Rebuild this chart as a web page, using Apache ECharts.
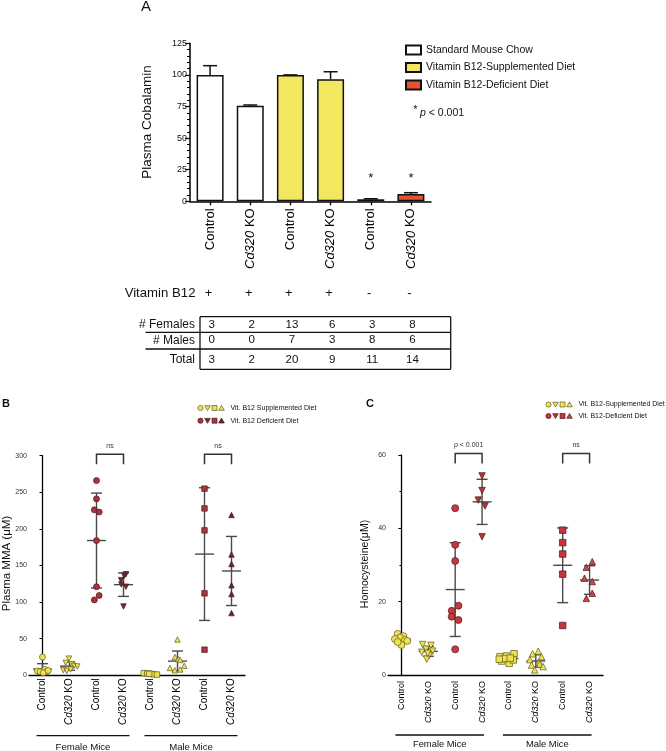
<!DOCTYPE html>
<html><head><meta charset="utf-8">
<script src="https://cdn.jsdelivr.net/npm/echarts@6/dist/echarts.min.js"></script>
<style>html,body{margin:0;padding:0;background:#fff}#c{width:666px;height:751px}</style>
</head><body><div id="c"></div>
<script>
// ---------- Panel A data ----------
const aCategories = ['Control','Cd320 KO','Control','Cd320 KO','Control','Cd320 KO'];
const aSeriesNames = ['Standard Mouse Chow','Vitamin B12-Supplemented Diet','Vitamin B12-Deficient Diet'];
const aChow = [100, 75.5, '-', '-', '-', '-'];
const aSupp = ['-', '-', 100, 96.5, '-', '-'];
const aDef  = ['-', '-', '-', '-', 1.6, 5.8];
const aValues = [100, 75.5, 100, 96.5, 1.6, 5.8];
const aErrTop = [107.3, 76.2, 100, 102.5, 2.0, 6.8];
const aStarAt = [null, null, null, null, 19.5, 19.5];
const vitB12 = ['+','+','+','+','-','-'];
const tableRowLabels = ['# Females','# Males','Total'];
const females = [3,2,13,6,3,8];
const males   = [0,0,7,3,8,6];
const totals  = [3,2,20,9,11,14];

// ---------- Panels B / C data ([jitter, value]) ----------
const groupCats = ['Control','Cd320 KO','Control','Cd320 KO','Control','Cd320 KO','Control','Cd320 KO'];
const groupSexes = ['Female Mice','Male Mice'];
const bFemCtrlSupp = [[0,25],[-0.19,6],[-0.09,5],[0.09,8],[0.16,5],[0.03,3.5],[0.21,6.5]];
const bFemKoSupp   = [[-0.02,22.7],[-0.14,17],[0.08,15],[0.17,12.7],[0.29,12],[-0.23,7],[-0.1,6],[0.04,8]];
const bFemCtrlDef  = [[0,266],[0,241],[-0.08,226],[0.1,223],[0,184],[0,121],[0.1,109],[-0.08,103]];
const bFemKoDef    = [[0.09,138],[0.03,136],[-0.09,130],[-0.08,124],[0.09,121],[0,94]];
const bMaleCtrlSupp= [[-0.25,3],[-0.12,2.5],[0,2],[0.12,1.5],[0.24,1],[-0.05,2]];
const bMaleKoSupp  = [[0,49],[-0.1,25],[0.03,22],[0.1,21],[0.25,13],[-0.28,10],[0.1,8],[-0.1,7]];
const bMaleCtrlDef = [[0,255],[0,228],[0,198],[0,112],[0,35]];
const bMaleKoDef   = [[0,219],[0,165],[0,152],[0,123],[0,111],[0,85]];

const cFemCtrlSupp = [[-0.14,11.2],[0.07,10.6],[-0.05,10.2],[-0.24,9.8],[0.13,9.5],[0.22,9.3],[0,8.2],[-0.14,9.0]];
const cFemKoSupp   = [[-0.21,8.3],[0.1,8.1],[-0.09,7.0],[0.16,6.5],[-0.24,6.2],[0.04,5.3],[-0.06,4.3],[-0.02,5.9]];
const cFemCtrlDef  = [[0,45.5],[0,35.5],[0,31.1],[0.12,18.9],[-0.13,17.5],[-0.13,15.9],[0.12,15.0],[0,7.0]];
const cFemKoDef    = [[0,54.3],[0,50.3],[-0.14,47.7],[0.11,46.1],[0,37.7]];
const cMaleCtrlSupp= [[-0.33,5.0],[-0.09,5.2],[0.19,5.8],[-0.27,3.8],[0.01,3.2],[-0.15,4.5],[0.16,4.1],[-0.36,4.3],[0.05,4.6]];
const cMaleKoSupp  = [[0.09,6.5],[-0.12,5.8],[0.21,5.0],[-0.22,4.2],[0.12,3.5],[0.15,3.0],[-0.16,2.7],[-0.04,1.4],[0.27,2.3]];
const cMaleCtrlDef = [[0,39.5],[0,36.1],[0,33.0],[0,27.5],[0,13.5]];
const cMaleKoDef   = [[0.1,30.9],[-0.12,29.4],[-0.19,26.4],[0.1,25.5],[0.1,22.3],[-0.12,20.9]];

const bGroups = [bFemCtrlSupp,bFemKoSupp,bFemCtrlDef,bFemKoDef,bMaleCtrlSupp,bMaleKoSupp,bMaleCtrlDef,bMaleKoDef];
const cGroups = [cFemCtrlSupp,cFemKoSupp,cFemCtrlDef,cFemKoDef,cMaleCtrlSupp,cMaleKoSupp,cMaleCtrlDef,cMaleKoDef];
const groupDiet = ['supp','supp','def','def','supp','supp','def','def'];
const groupSymbol = ['circle','down','circle','down','rect','triangle','rect','triangle'];
const bComparisons = [[2,3,'ns'],[6,7,'ns']];
const cComparisons = [[2,3,'p'],[6,7,'ns']];
const legendSupp = ['Vit. B12 Supplemented Diet','Vit. B12-Supplemented Diet'];
const legendDef = ['Vit. B12 Deficient Diet','Vit. B12-Deficient Diet'];

// ---------- styles ----------
const FONT = '"Liberation Sans", Arial, Helvetica, sans-serif';
const YELLOW = '#efe24c', YBORDER = '#5e5a28';
const bRed = ['#b33a45','#b33a45','#a8323d','#6e2c33','#b33a45','#b33a45','#a9363f','#5a2c2f'];
const cRed = ['#cc3b3e','#cc3b3e','#c9383c','#b8343b','#cc3b3e','#cc3b3e','#c4363b','#c9464e'];
const RBORDER = '#4a1a1e';

function meanSd(arr){
  const v = arr.map(p=>p[1]); const n = v.length;
  const m = v.reduce((a,b)=>a+b,0)/n;
  const s = Math.sqrt(v.reduce((a,b)=>a+(b-m)*(b-m),0)/(n-1));
  return [m,s];
}
function koFmt(v){ return v === 'Cd320 KO' ? '{i|Cd320} KO' : v; }

function sdRender(meanW, capW){
  return function(params, api){
    const x = api.value(0), m = api.value(1), s = api.value(2);
    const lo = Math.max(m - s, 0);
    const pT = api.coord([x, m + s]), pB = api.coord([x, lo]), pM = api.coord([x, m]);
    const st = {stroke:'#4a4a4a', lineWidth:1.4};
    const ch = [
      {type:'line', shape:{x1:pT[0],y1:pT[1],x2:pB[0],y2:pB[1]}, style:st},
      {type:'line', shape:{x1:pT[0]-capW/2,y1:pT[1],x2:pT[0]+capW/2,y2:pT[1]}, style:st},
      {type:'line', shape:{x1:pM[0]-meanW/2,y1:pM[1],x2:pM[0]+meanW/2,y2:pM[1]}, style:st}
    ];
    if (m - s > 0) ch.push({type:'line', shape:{x1:pB[0]-capW/2,y1:pB[1],x2:pB[0]+capW/2,y2:pB[1]}, style:st});
    return {type:'group', children:ch};
  };
}
function bracketRender(params, api){
  const x1 = api.value(0), x2 = api.value(1);
  const cs = params.coordSys;
  const p1 = api.coord([x1, 0]), p2 = api.coord([x2, 0]);
  const top = cs.y - 1.5, bot = top + 10;
  const st = {stroke:'#333', lineWidth:1.5, fill:null};
  const isP = api.value(2) === 1;
  return {type:'group', children:[
    {type:'polyline', shape:{points:[[p1[0],bot],[p1[0],top],[p2[0],top],[p2[0],bot]]}, style:st},
    {type:'text', x:(p1[0]+p2[0])/2, y:top-8, style:{
      text: isP ? '{i|p} < 0.001' : 'ns', fontSize:7, fontFamily:FONT, fill:'#333',
      align:'center', verticalAlign:'middle',
      rich:{i:{fontStyle:'italic', fontSize:7, fontFamily:FONT, fill:'#333'}}}}
  ]};
}

function scatterSeries(groups, xIdx, yIdx, size, reds){
  return groups.map((g,i)=>({
    type:'scatter', xAxisIndex:xIdx, yAxisIndex:yIdx, z:5, silent:true,
    symbol: groupSymbol[i]==='down' ? 'triangle' : groupSymbol[i],
    symbolRotate: groupSymbol[i]==='down' ? 180 : 0,
    symbolSize: groupSymbol[i]==='rect' ? size-0.5 : (groupSymbol[i]==='circle' ? size : size-0.5),
    itemStyle:{opacity:1, color: groupDiet[i]==='supp' ? YELLOW : reds[i],
               borderColor: groupDiet[i]==='supp' ? YBORDER : RBORDER, borderWidth:0.7},
    data: g.map(p=>[i + p[0], p[1]])
  }));
}

const axLine = {show:true, lineStyle:{color:'#000', width:1.3}};
const option = {
  animation:false,
  textStyle:{fontFamily:FONT},
  grid:[
    {left:190, top:43.3, width:241, height:158},
    {left:29, top:455.7, width:216, height:219.6},
    {left:388, top:455, width:215, height:220}
  ],
  legend:{
    orient:'vertical', left:405, top:44, padding:0, itemWidth:15, itemHeight:9, itemGap:5.5,
    icon:'rect', selectedMode:false, data:aSeriesNames,
    textStyle:{fontSize:10.5, color:'#111', fontFamily:FONT, lineHeight:12}
  },
  xAxis:[
    {type:'category', gridIndex:0, data:aCategories, axisLine:{show:true, lineStyle:{color:'#000', width:1.5}},
     axisTick:{show:true, alignWithLabel:true, length:4, lineStyle:{color:'#000', width:1.3}},
     axisLabel:{interval:0, rotate:90, margin:7, fontSize:13, color:'#000', fontFamily:FONT, formatter:koFmt,
       rich:{i:{fontStyle:'italic', fontSize:13, color:'#000', fontFamily:FONT}}}},
    {type:'category', gridIndex:1, data:groupCats, axisLine:axLine, axisTick:{show:false},
     axisLabel:{interval:0, rotate:90, margin:3, fontSize:10, color:'#000', fontFamily:FONT, formatter:koFmt,
       rich:{i:{fontStyle:'italic', fontSize:10, color:'#000', fontFamily:FONT}}}},
    {type:'value', gridIndex:1, show:false, min:-0.5, max:7.5},
    {type:'category', gridIndex:2, data:groupCats, axisLine:axLine, axisTick:{show:false},
     axisLabel:{interval:0, rotate:90, margin:6, fontSize:9, color:'#000', fontFamily:FONT, formatter:koFmt,
       rich:{i:{fontStyle:'italic', fontSize:9, color:'#000', fontFamily:FONT}}}},
    {type:'value', gridIndex:2, show:false, min:-0.5, max:7.5}
  ],
  yAxis:[
    {type:'value', gridIndex:0, min:0, max:125, interval:25, splitLine:{show:false},
     axisLine:{show:true, lineStyle:{color:'#000', width:1.5}},
     axisTick:{show:true, length:5, lineStyle:{color:'#000', width:1.2}},
     minorTick:{show:true, splitNumber:5, length:3, lineStyle:{color:'#000', width:1}},
     axisLabel:{fontSize:9, margin:3, color:'#111', fontFamily:FONT}},
    {type:'value', gridIndex:1, min:0, max:300, interval:50, splitLine:{show:false}, axisLine:axLine,
     axisTick:{show:true, length:3, lineStyle:{color:'#000'}},
     axisLabel:{fontSize:7, margin:2, color:'#333', fontFamily:FONT}},
    {type:'value', gridIndex:2, min:0, max:60, interval:20, splitLine:{show:false}, axisLine:axLine,
     axisTick:{show:true, length:3, lineStyle:{color:'#000'}},
     minorTick:{show:true, splitNumber:2, length:2, lineStyle:{color:'#000'}},
     axisLabel:{fontSize:7, margin:2, color:'#333', fontFamily:FONT}}
  ],
  series:[
    {name:aSeriesNames[0], type:'bar', xAxisIndex:0, yAxisIndex:0, barWidth:27, barGap:'-100%', data:aChow,
     itemStyle:{color:'#ffffff', borderColor:'#111', borderWidth:1.5}},
    {name:aSeriesNames[1], type:'bar', xAxisIndex:0, yAxisIndex:0, barWidth:27, barGap:'-100%', data:aSupp,
     itemStyle:{color:'#f3e760', borderColor:'#111', borderWidth:1.5}},
    {name:aSeriesNames[2], type:'bar', xAxisIndex:0, yAxisIndex:0, barWidth:27, barGap:'-100%', data:aDef,
     itemStyle:{color:'#e4522f', borderColor:'#111', borderWidth:1.5}},
    {type:'custom', xAxisIndex:0, yAxisIndex:0, z:4, silent:true,
     data: aValues.map((v,i)=>[i, v, aErrTop[i]]),
     renderItem:function(params, api){
       const p0 = api.coord([api.value(0), api.value(1)]), p1 = api.coord([api.value(0), api.value(2)]);
       const st = {stroke:'#111', lineWidth:1.5};
       return {type:'group', children:[
         {type:'line', shape:{x1:p0[0],y1:p0[1],x2:p1[0],y2:p1[1]}, style:st},
         {type:'line', shape:{x1:p1[0]-7,y1:p1[1],x2:p1[0]+7,y2:p1[1]}, style:st}]};
     }},
    {type:'custom', xAxisIndex:0, yAxisIndex:0, z:4, silent:true,
     data: aStarAt.map((v,i)=>[i, v]).filter(d=>d[1]!==null),
     renderItem:function(params, api){
       const p = api.coord([api.value(0), api.value(1)]);
       return {type:'text', x:p[0], y:p[1]+2, style:{text:'*', fontSize:13, fontFamily:FONT, fill:'#111', align:'center', verticalAlign:'middle'}};
     }},
    ...scatterSeries(bGroups, 2, 1, 6, bRed),
    {type:'custom', xAxisIndex:2, yAxisIndex:1, z:4, silent:true,
     data: bGroups.map((g,i)=>{const ms=meanSd(g); return [i, ms[0], ms[1]];}), renderItem: sdRender(19, 11)},
    {type:'custom', xAxisIndex:2, yAxisIndex:1, z:4, silent:true, clip:false,
     data: bComparisons.map(c=>[c[0], c[1], c[2]==='p'?1:0]), renderItem: bracketRender},
    ...scatterSeries(cGroups, 4, 2, 7, cRed),
    {type:'custom', xAxisIndex:4, yAxisIndex:2, z:4, silent:true,
     data: cGroups.map((g,i)=>{const ms=meanSd(g); return [i, ms[0], ms[1]];}), renderItem: sdRender(19, 11)},
    {type:'custom', xAxisIndex:4, yAxisIndex:2, z:4, silent:true, clip:false,
     data: cComparisons.map(c=>[c[0], c[1], c[2]==='p'?1:0]), renderItem: bracketRender}
  ]
};

const chart = echarts.init(document.getElementById('c'));
chart.setOption(option);

// ---------- annotations (text, table, legends) ----------
const G = [];
function txt(x, y, text, size, opt){
  opt = opt || {};
  G.push({type:'text', x:x, y:y, rotation:opt.rot||0, silent:true, style:{
    text:text, fontSize:size, fontFamily:FONT, fontWeight:opt.bold?'bold':'normal', fill:opt.fill||'#111',
    align:opt.align||'center', verticalAlign:'middle', rich:opt.rich||{}}});
}
function ln(x1,y1,x2,y2,w){ G.push({type:'line', silent:true, shape:{x1,y1,x2,y2}, style:{stroke:'#111', lineWidth:w||1.3}}); }

// Panel A
txt(146, 7, 'A', 15);
txt(147.5, 122, 'Plasma Cobalamin', 13.5, {rot:Math.PI/2});
txt(415.5, 109.5, '*', 11, {align:'center'});
txt(420, 113.3, '{i|p} < 0.001', 10.5, {align:'left', rich:{i:{fontStyle:'italic', fontSize:10.5, fontFamily:FONT, fill:'#111'}}});
const colX = aCategories.map((c,i)=>chart.convertToPixel({xAxisIndex:0}, i));
txt(195.5, 293, 'Vitamin B12', 13.2, {align:'right'});
vitB12.forEach((s,i)=>txt(colX[i]-1.5, 293, s, 13));
// table
const tL = 200, tR = 450.7, tT = 316.7, tB = 369.3, l1 = 332.3, l2 = 349, lx = 145.5;
ln(tL, tT, tR, tT); ln(tL, tB, tR, tB); ln(tL, tT, tL, tB); ln(tR, tT, tR, tB);
ln(lx, l1, tR, l1); ln(lx, l2, tR, l2);
const rowY = [325, 340.3, 359.5];
tableRowLabels.forEach((r,k)=>txt(195, rowY[k], r, 12, {align:'right'}));
[females, males, totals].forEach((row,k)=>row.forEach((v,i)=>txt(colX[i]+1.5, rowY[k], String(v), 11.5)));

// Panels B & C
txt(6, 403.5, 'B', 11, {bold:true});
txt(370, 403.5, 'C', 11, {bold:true});
txt(7, 563.5, 'Plasma MMA (\u03bcM)', 11.5, {rot:Math.PI/2});
txt(365, 564, 'Homocysteine(\u03bcM)', 10.5, {rot:Math.PI/2});

function legendRow(x, y, label, diet, reds){
  const syms = ['circle','down','rect','triangle'];
  syms.forEach((s,k)=>{
    const cx = x + k*7, fill = diet==='supp' ? YELLOW : reds[k===0?2:(k===1?3:(k===2?6:7))];
    const border = diet==='supp' ? YBORDER : RBORDER;
    const st = {fill:fill, stroke:border, lineWidth:0.7};
    if (s==='circle') G.push({type:'circle', silent:true, shape:{cx:cx, cy:y, r:2.6}, style:st});
    else if (s==='rect') G.push({type:'rect', silent:true, shape:{x:cx-2.5, y:y-2.5, width:5, height:5}, style:st});
    else if (s==='down') G.push({type:'polygon', silent:true, shape:{points:[[cx-2.8,y-2.3],[cx+2.8,y-2.3],[cx,y+2.6]]}, style:st});
    else G.push({type:'polygon', silent:true, shape:{points:[[cx-2.8,y+2.3],[cx+2.8,y+2.3],[cx,y-2.6]]}, style:st});
  });
  txt(x + 30, y, label, 7, {align:'left'});
}
legendRow(200.5, 408, legendSupp[0], 'supp', bRed);
legendRow(200.5, 420.7, legendDef[0], 'def', bRed);
legendRow(548.5, 404.5, legendSupp[1], 'supp', cRed);
legendRow(548.5, 416, legendDef[1], 'def', cRed);

function groupLabels(xIdx, y, ty, fs, padL, padR){
  groupSexes.forEach((s,k)=>{
    const a = chart.convertToPixel({xAxisIndex:xIdx}, k*4), b = chart.convertToPixel({xAxisIndex:xIdx}, k*4+3);
    ln(a - padL, y, b + padR, y, 1.3);
    txt((a - padL + b + padR)/2, ty, s, fs);
  });
}
groupLabels(2, 735.7, 747, 9.6, 6, 6);
groupLabels(4, 735, 744.5, 9.4, 6, 2);

chart.setOption({graphic: G});
</script></body></html>
